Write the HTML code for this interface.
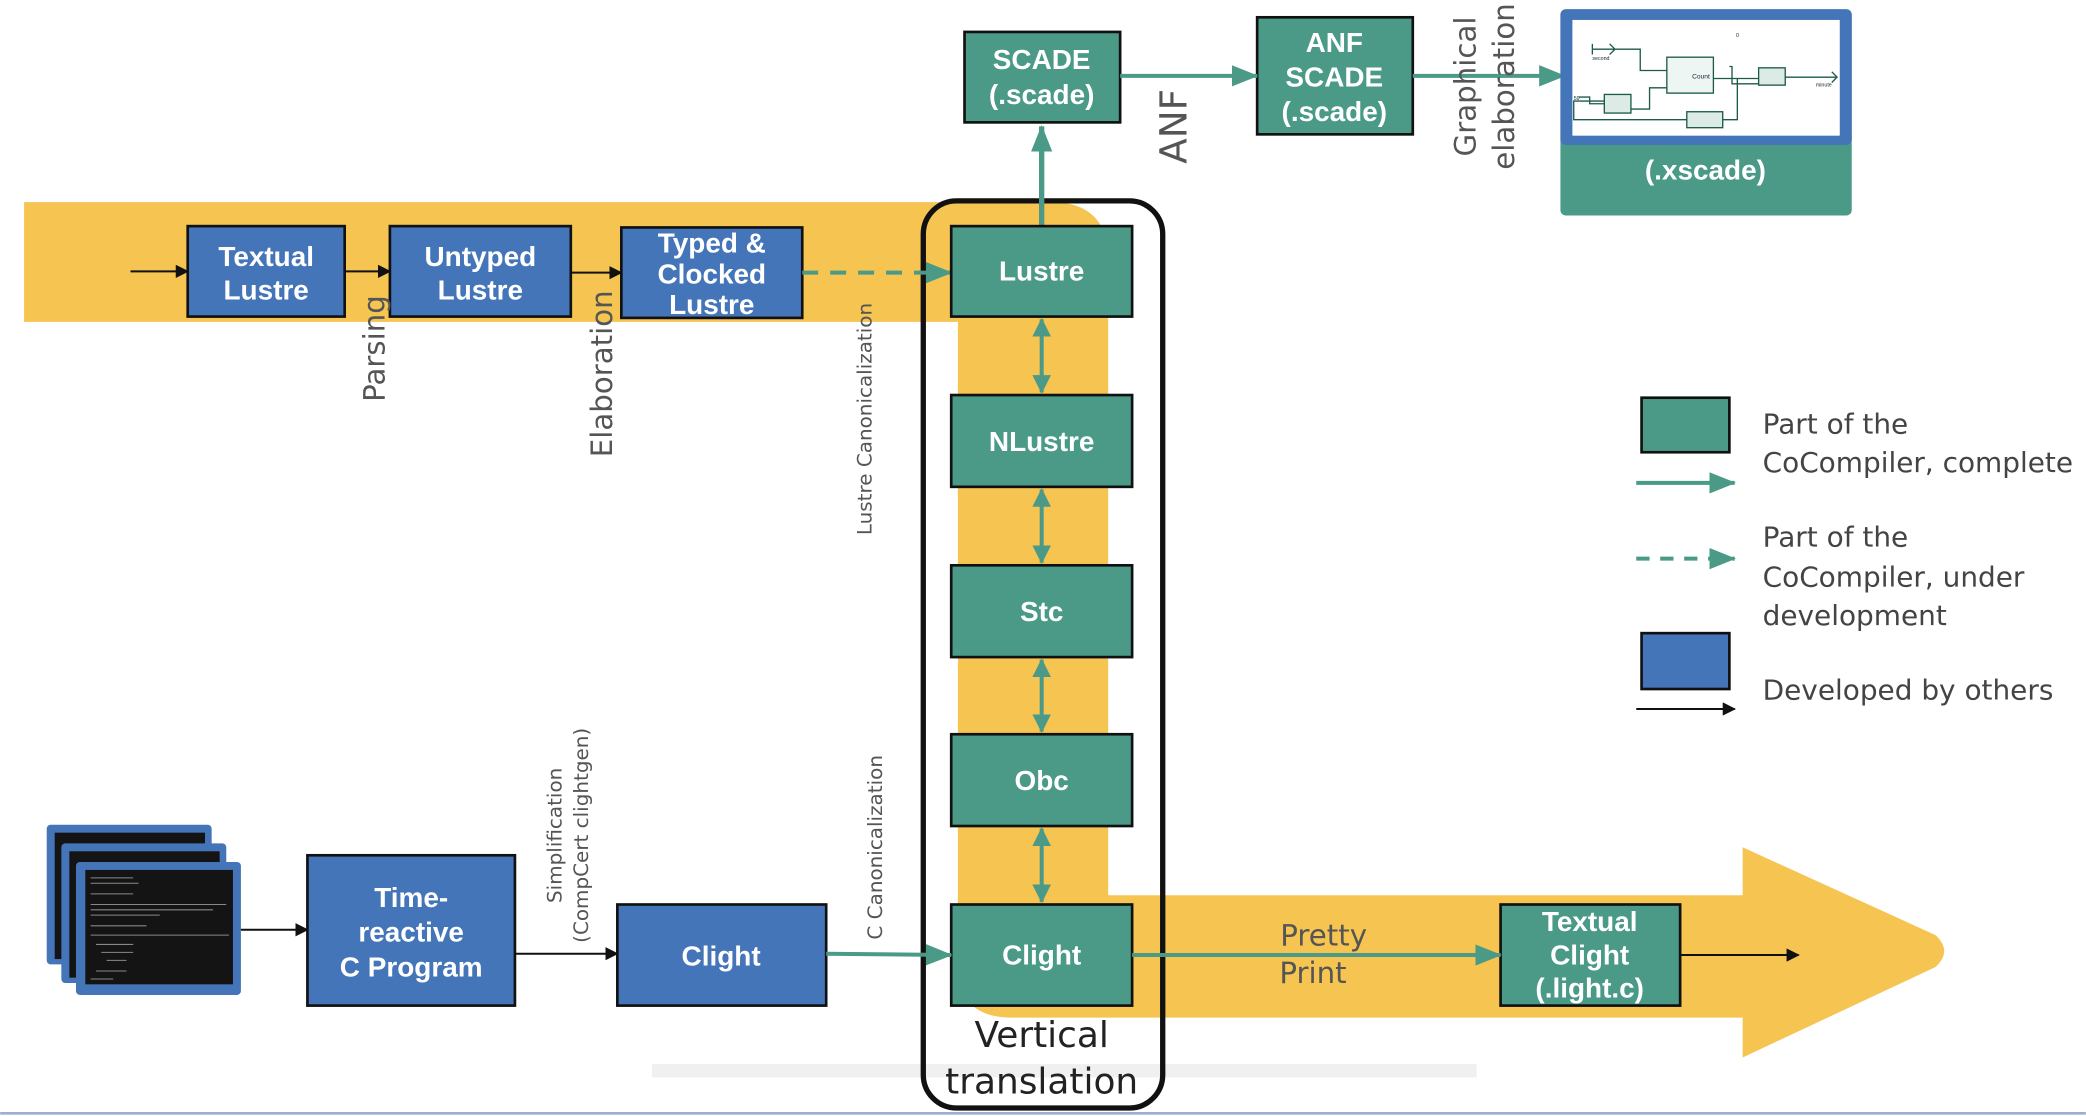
<!DOCTYPE html>
<html><head><meta charset="utf-8"><style>
html,body{margin:0;padding:0;background:#fff;width:2086px;height:1116px;overflow:hidden}
svg{display:block}
.bt{font-family:"Liberation Sans",sans-serif;font-weight:bold;fill:#fff;font-size:21px;text-anchor:middle}
.lb{font-family:"DejaVu Sans","Liberation Sans",sans-serif;fill:#555;text-anchor:middle}
.lg{font-family:"DejaVu Sans","Liberation Sans",sans-serif;fill:#444;font-size:21px}
</style></head><body>
<svg width="2086" height="1116" viewBox="0 0 1568 839" xmlns="http://www.w3.org/2000/svg">
<defs>
<marker id="ab" markerWidth="10" markerHeight="10" refX="9" refY="5" orient="auto" markerUnits="userSpaceOnUse"><path d="M0,0 L10,5 L0,10z" fill="#111"/></marker>
<marker id="ag" markerWidth="20" markerHeight="16" refX="19" refY="8" orient="auto" markerUnits="userSpaceOnUse"><path d="M0,0 L20,8 L0,16z" fill="#4a9a87"/></marker>
<marker id="ag2" markerWidth="14" markerHeight="14" refX="13" refY="7" orient="auto-start-reverse" markerUnits="userSpaceOnUse"><path d="M0,0 L14,7 L0,14z" fill="#4a9a87"/></marker>
</defs>
<!-- yellow bands -->
<path d="M18,152 H790 Q833,152 833,195 V673 H1310 V637 L1455,703 Q1468,715 1455,727 L1310,795 V765 H760 Q720,765 720,725 V242 H18 Z" fill="#f5c451"/>
<!-- faint shadow -->
<rect x="490" y="800" width="620" height="10" fill="#f0f0f0"/>
<line x1="0" y1="837" x2="1568" y2="837" stroke="#9aaed0" stroke-width="2"/>
<!-- black rounded rect -->
<rect x="694" y="151" width="180" height="682" rx="25" fill="none" stroke="#111" stroke-width="4"/>
<!-- top row blue -->
<line x1="98" y1="204" x2="141" y2="204" stroke="#111" stroke-width="1.5" marker-end="url(#ab)"/>
<rect x="141" y="170" width="118" height="68" fill="#4475b8" stroke="#111" stroke-width="2"/>
<text class="bt" x="200" y="200">Textual</text><text class="bt" x="200" y="225">Lustre</text>
<line x1="259" y1="204" x2="293" y2="204" stroke="#111" stroke-width="1.5" marker-end="url(#ab)"/>
<rect x="293" y="170" width="136" height="68" fill="#4475b8" stroke="#111" stroke-width="2"/>
<text class="bt" x="361" y="200">Untyped</text><text class="bt" x="361" y="225">Lustre</text>
<line x1="429" y1="205" x2="467" y2="205" stroke="#111" stroke-width="1.5" marker-end="url(#ab)"/>
<rect x="467" y="171" width="136" height="68" fill="#4475b8" stroke="#111" stroke-width="2"/>
<text class="bt" x="535" y="190" font-size="19">Typed &amp;</text><text class="bt" x="535" y="213" font-size="19">Clocked</text><text class="bt" x="535" y="236" font-size="19">Lustre</text>
<line x1="603" y1="205" x2="715" y2="205" stroke="#4a9a87" stroke-width="3" stroke-dasharray="12,9" marker-end="url(#ag)"/>
<!-- green column -->
<line x1="783" y1="170" x2="783" y2="95" stroke="#4a9a87" stroke-width="4" marker-end="url(#ag)"/>
<g fill="#4a9a87" stroke="#111" stroke-width="2">
<rect x="715" y="170" width="136" height="68"/>
<rect x="715" y="297" width="136" height="69"/>
<rect x="715" y="425" width="136" height="69"/>
<rect x="715" y="552" width="136" height="69"/>
<rect x="715" y="680" width="136" height="76"/>
<rect x="725" y="24" width="117" height="68"/>
<rect x="945" y="13" width="117" height="88"/>
<rect x="1128" y="680" width="135" height="76"/>
</g>
<g stroke="#4a9a87" stroke-width="3">
<line x1="783" y1="240" x2="783" y2="295" marker-start="url(#ag2)" marker-end="url(#ag2)"/>
<line x1="783" y1="368" x2="783" y2="423" marker-start="url(#ag2)" marker-end="url(#ag2)"/>
<line x1="783" y1="496" x2="783" y2="550" marker-start="url(#ag2)" marker-end="url(#ag2)"/>
<line x1="783" y1="623" x2="783" y2="678" marker-start="url(#ag2)" marker-end="url(#ag2)"/>
</g>
<text class="bt" x="783" y="211">Lustre</text>
<text class="bt" x="783" y="339">NLustre</text>
<text class="bt" x="783" y="467">Stc</text>
<text class="bt" x="783" y="594">Obc</text>
<text class="bt" x="783" y="725">Clight</text>
<text class="bt" x="783" y="52">SCADE</text><text class="bt" x="783" y="78">(.scade)</text>
<text class="bt" x="1003" y="39">ANF</text><text class="bt" x="1003" y="65">SCADE</text><text class="bt" x="1003" y="91">(.scade)</text>
<text class="bt" x="1195" y="700">Textual</text><text class="bt" x="1195" y="725">Clight</text><text class="bt" x="1195" y="750">(.light.c)</text>
<line x1="842" y1="57" x2="945" y2="57" stroke="#4a9a87" stroke-width="3" marker-end="url(#ag)"/>
<line x1="1062" y1="57" x2="1176" y2="57" stroke="#4a9a87" stroke-width="3" marker-end="url(#ag)"/>
<line x1="851" y1="718" x2="1128" y2="718" stroke="#4a9a87" stroke-width="3" marker-end="url(#ag)"/>
<line x1="1263" y1="718" x2="1352" y2="718" stroke="#111" stroke-width="1.5" marker-end="url(#ab)"/>
<!-- xscade -->
<rect x="1173" y="7" width="219" height="155" rx="4" fill="#4a9a87"/>
<rect x="1173" y="7" width="219" height="102" rx="4" fill="#4475b8"/>
<rect x="1182" y="15" width="201" height="87" fill="#fff"/>
<g stroke="#1c5a4a" stroke-width="1" fill="none">
<path d="M1197,37 H1213 M1197,33 V41 M1210,33 L1214,37 L1210,41 M1213,37 H1233 V53 H1253"/>
<rect x="1253" y="43" width="35" height="27" fill="#eef6f4"/>
<path d="M1288,59 H1322 M1306,59 V90 H1295 M1268,90 H1183 V76 H1206 M1253,66 H1240 V82 H1226 M1300,50 H1302 V63 H1322 M1342,58 H1380 M1377,54 L1381,58 L1377,62 M1187,73 H1195 V78 H1206"/>
<rect x="1206" y="71" width="20" height="14" fill="#dcebe6"/>
<rect x="1268" y="84" width="27" height="12" fill="#dcebe6"/>
<rect x="1322" y="51" width="20" height="13" fill="#dcebe6"/>
</g>
<text x="1272" y="59" font-size="5" font-family="Liberation Sans" fill="#123">Count</text>
<text x="1197" y="45" font-size="4" font-family="Liberation Sans" fill="#123">second</text>
<text x="1365" y="65" font-size="4" font-family="Liberation Sans" fill="#123">minute</text>
<text x="1183" y="75" font-size="4" font-family="Liberation Sans" fill="#123">59</text>
<text x="1305" y="28" font-size="4" font-family="Liberation Sans" fill="#123">0</text>
<text class="bt" x="1282" y="135">(.xscade)</text>
<!-- bottom row -->
<g>
<rect x="35" y="620" width="124" height="105" rx="3" fill="#4475b8"/>
<rect x="41" y="626" width="113" height="95" fill="#141414"/>
<rect x="46" y="634" width="124" height="105" rx="3" fill="#4475b8"/>
<rect x="52" y="640" width="113" height="95" fill="#141414"/>
<rect x="57" y="648" width="124" height="100" rx="3" fill="#4475b8"/>
<rect x="64" y="654" width="111" height="86" fill="#141414"/>
<g stroke="#888" stroke-width="0.8">
<line x1="68" y1="660" x2="100" y2="660"/><line x1="68" y1="664" x2="104" y2="664"/><line x1="68" y1="672" x2="100" y2="672"/><line x1="68" y1="680" x2="170" y2="680"/><line x1="68" y1="684" x2="160" y2="684"/><line x1="68" y1="688" x2="120" y2="688"/><line x1="68" y1="696" x2="110" y2="696"/><line x1="68" y1="703" x2="172" y2="703"/><line x1="72" y1="710" x2="100" y2="710"/><line x1="76" y1="716" x2="100" y2="716"/><line x1="80" y1="722" x2="95" y2="722"/><line x1="72" y1="730" x2="95" y2="730"/><line x1="68" y1="736" x2="85" y2="736"/>
</g>
</g>
<line x1="181" y1="699" x2="231" y2="699" stroke="#111" stroke-width="1.5" marker-end="url(#ab)"/>
<rect x="231" y="643" width="156" height="113" fill="#4475b8" stroke="#111" stroke-width="2"/>
<text class="bt" x="309" y="682">Time-</text><text class="bt" x="309" y="708">reactive</text><text class="bt" x="309" y="734">C Program</text>
<line x1="387" y1="717" x2="464" y2="717" stroke="#111" stroke-width="1.5" marker-end="url(#ab)"/>
<rect x="464" y="680" width="157" height="76" fill="#4475b8" stroke="#111" stroke-width="2"/>
<text class="bt" x="542" y="726">Clight</text>
<line x1="621" y1="717" x2="715" y2="718" stroke="#4a9a87" stroke-width="3" marker-end="url(#ag)"/>
<!-- labels -->
<text class="lb" font-size="22" transform="translate(289,262) rotate(-90)">Parsing</text>
<text class="lb" font-size="22" transform="translate(460,281) rotate(-90)">Elaboration</text>
<text class="lb" font-size="15" transform="translate(655,315) rotate(-90)">Lustre Canonicalization</text>
<text class="lb" font-size="15" transform="translate(663,637) rotate(-90)">C Canonicalization</text>
<text class="lb" font-size="15" transform="translate(422,628) rotate(-90)">Simplification</text>
<text class="lb" font-size="15" transform="translate(442,628) rotate(-90)">(CompCert clightgen)</text>
<text class="lb" font-size="28" transform="translate(892,95) rotate(-90)">ANF</text>
<text class="lb" font-size="22" transform="translate(1109,65) rotate(-90)">Graphical</text>
<text class="lb" font-size="22" transform="translate(1138,65) rotate(-90)">elaboration</text>
<text class="lb" font-size="22" x="995" y="711">Pretty</text>
<text class="lb" font-size="22" x="987" y="739">Print</text>
<text x="783" y="787" font-size="27" text-anchor="middle" font-family="DejaVu Sans,Liberation Sans,sans-serif" fill="#222">Vertical</text>
<text x="783" y="822" font-size="27" text-anchor="middle" font-family="DejaVu Sans,Liberation Sans,sans-serif" fill="#222">translation</text>
<!-- legend -->
<rect x="1234" y="299" width="66" height="41" fill="#4a9a87" stroke="#111" stroke-width="2"/>
<line x1="1230" y1="363" x2="1304" y2="363" stroke="#4a9a87" stroke-width="3" marker-end="url(#ag)"/>
<line x1="1230" y1="420" x2="1304" y2="420" stroke="#4a9a87" stroke-width="3" stroke-dasharray="10,8" marker-end="url(#ag)"/>
<rect x="1234" y="476" width="66" height="42" fill="#4475b8" stroke="#111" stroke-width="2"/>
<line x1="1230" y1="533" x2="1304" y2="533" stroke="#111" stroke-width="1.5" marker-end="url(#ab)"/>
<text class="lg" x="1325" y="326">Part of the</text>
<text class="lg" x="1325" y="355">CoCompiler, complete</text>
<text class="lg" x="1325" y="411">Part of the</text>
<text class="lg" x="1325" y="441">CoCompiler, under</text>
<text class="lg" x="1325" y="470">development</text>
<text class="lg" x="1325" y="526">Developed by others</text>
</svg>
</body></html>
